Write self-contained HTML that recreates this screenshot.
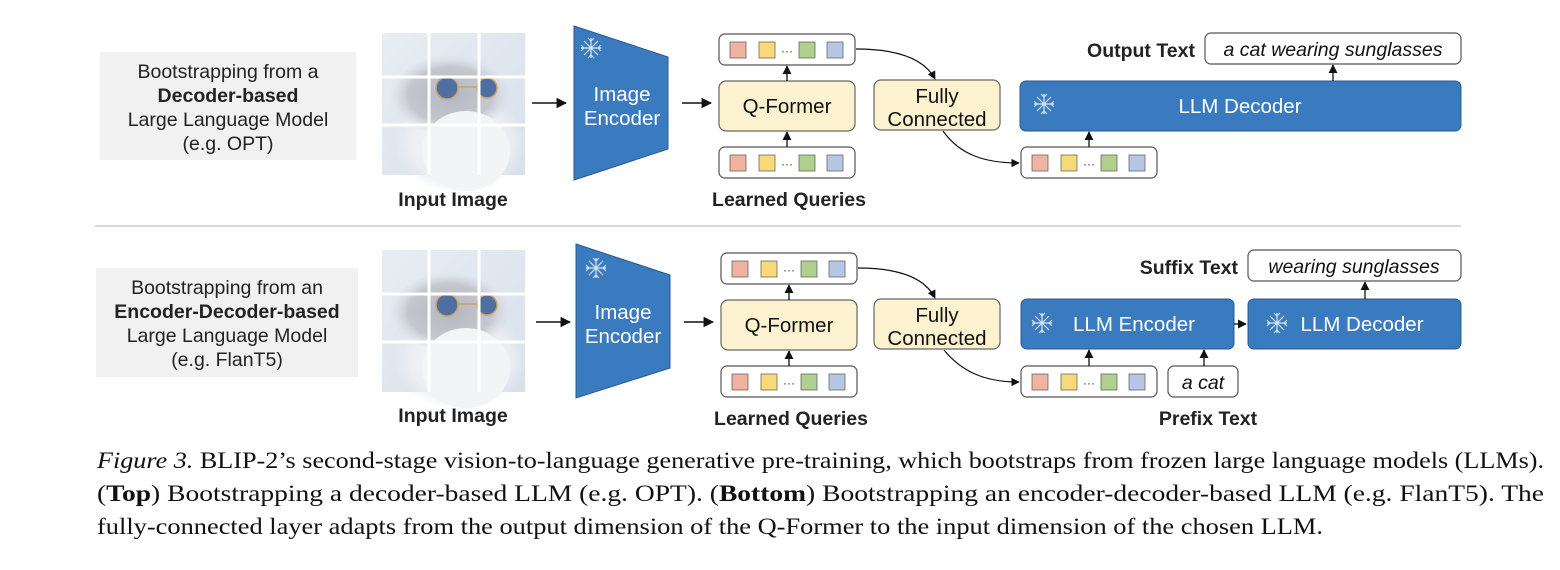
<!DOCTYPE html>
<html><head><meta charset="utf-8"><style>
html,body{margin:0;padding:0;background:#fff;}
svg{display:block;}
.s{font-family:"Liberation Sans",Arial,sans-serif;}
.b{font-weight:bold;}
.cap{font-family:"Liberation Serif","Times New Roman",serif;font-size:23px;fill:#111;}
</style></head><body>
<svg width="1560" height="570" viewBox="0 0 1560 570" xmlns="http://www.w3.org/2000/svg">
<defs>
<marker id="ar" viewBox="0 0 10 10" refX="9" refY="5" markerWidth="7" markerHeight="7" orient="auto"><path d="M0,0 L10,5 L0,10 z" fill="#111"/></marker>
<linearGradient id="bg" x1="0" y1="0" x2="1" y2="1"><stop offset="0" stop-color="#e8edf3"/><stop offset="1" stop-color="#d8e0ea"/></linearGradient>
<radialGradient id="fur" cx="0.5" cy="0.5" r="0.5"><stop offset="0" stop-color="#f6f6f8"/><stop offset="0.75" stop-color="#eceef2"/><stop offset="1" stop-color="#eceef2" stop-opacity="0"/></radialGradient>
<radialGradient id="head" cx="0.5" cy="0.5" r="0.5"><stop offset="0" stop-color="#b4b7bf"/><stop offset="0.7" stop-color="#c4c7ce"/><stop offset="1" stop-color="#d6dae1" stop-opacity="0"/></radialGradient>
<g id="cat">
<rect x="0" y="0" width="143" height="142" fill="url(#bg)"/>
<ellipse cx="78" cy="110" rx="66" ry="50" fill="url(#fur)"/>
<ellipse cx="68" cy="62" rx="60" ry="40" fill="url(#head)"/>
<ellipse cx="84" cy="118" rx="44" ry="40" fill="#f3f4f6"/>
<circle cx="65" cy="55" r="11" fill="#4e6fa0" stroke="#c9a36a" stroke-width="1.5"/>
<circle cx="105" cy="55" r="10" fill="#4e6fa0" stroke="#c9a36a" stroke-width="1.5"/>
<line x1="76" y1="54" x2="95" y2="54" stroke="#c9a36a" stroke-width="1.5"/>
<line x1="47" y1="0" x2="47" y2="142" stroke="#fff" stroke-width="3"/>
<line x1="97" y1="0" x2="97" y2="142" stroke="#fff" stroke-width="3"/>
<line x1="0" y1="44" x2="143" y2="44" stroke="#fff" stroke-width="3"/>
<line x1="0" y1="92" x2="143" y2="92" stroke="#fff" stroke-width="3"/>
</g>
<g id="q">
<rect x="0" y="0" width="136" height="31" rx="6" fill="#fff" stroke="#555" stroke-width="1.2"/>
<rect x="11" y="8" width="16" height="16" fill="#f0b3a0" stroke="#666" stroke-width="0.8"/>
<rect x="40" y="8" width="16" height="16" fill="#f7da78" stroke="#666" stroke-width="0.8"/>
<text x="62" y="21" font-size="12" class="s" fill="#333">···</text>
<rect x="80" y="8" width="16" height="16" fill="#b0d08e" stroke="#666" stroke-width="0.8"/>
<rect x="108" y="8" width="16" height="16" fill="#b6c7e6" stroke="#666" stroke-width="0.8"/>
</g>
<g id="sf" stroke="#d8e6f5" stroke-width="1.2" fill="none">
<line x1="-10" y1="0" x2="10" y2="0"/><line x1="0" y1="-10" x2="0" y2="10"/>
<line x1="-7" y1="-7" x2="7" y2="7"/><line x1="-7" y1="7" x2="7" y2="-7"/>
<path d="M-3,-10 L0,-7 L3,-10 M-3,10 L0,7 L3,10 M-10,-3 L-7,0 L-10,3 M10,-3 L7,0 L10,3"/>
</g>
</defs>

<!-- ========== TOP ========== -->
<rect x="100" y="52" width="256" height="108" fill="#f1f1f1"/>
<g class="s" font-size="19.5" fill="#222" text-anchor="middle">
<text x="228" y="78">Bootstrapping from a</text>
<text x="228" y="102" class="b">Decoder-based</text>
<text x="228" y="126">Large Language Model</text>
<text x="228" y="150">(e.g. OPT)</text>
</g>
<use href="#cat" x="382" y="33"/>
<text x="453" y="206" class="s b" font-size="19.5" text-anchor="middle" fill="#222">Input Image</text>
<line x1="532" y1="103" x2="566" y2="103" stroke="#111" stroke-width="1.5" marker-end="url(#ar)"/>
<polygon points="574,26 668,57 668,149 574,180" fill="#3a7bbf" stroke="#2a5a90" stroke-width="1"/>
<use href="#sf" x="591" y="48"/>
<text x="622" y="101" class="s" font-size="20.5" fill="#fff" text-anchor="middle">Image</text>
<text x="622" y="125" class="s" font-size="20.5" fill="#fff" text-anchor="middle">Encoder</text>
<line x1="682" y1="103" x2="711" y2="103" stroke="#111" stroke-width="1.5" marker-end="url(#ar)"/>
<use href="#q" x="719" y="34"/>
<rect x="719" y="81" width="136" height="50" rx="7" fill="#fcf2cf" stroke="#666" stroke-width="1.2"/>
<text x="787" y="113" class="s" font-size="20.5" fill="#111" text-anchor="middle">Q-Former</text>
<use href="#q" x="719" y="147"/>
<line x1="787" y1="81" x2="787" y2="66" stroke="#111" stroke-width="1.3" marker-end="url(#ar)"/>
<line x1="787" y1="147" x2="787" y2="132" stroke="#111" stroke-width="1.3" marker-end="url(#ar)"/>
<text x="789" y="206" class="s b" font-size="19.5" text-anchor="middle" fill="#222">Learned Queries</text>
<rect x="874" y="80" width="126" height="50" rx="7" fill="#fcf2cf" stroke="#666" stroke-width="1.2"/>
<text x="937" y="103" class="s" font-size="20.5" fill="#111" text-anchor="middle">Fully</text>
<text x="937" y="126" class="s" font-size="20.5" fill="#111" text-anchor="middle">Connected</text>
<path d="M856,49 C900,49 925,60 935,79" fill="none" stroke="#111" stroke-width="1.2" marker-end="url(#ar)"/>
<path d="M943,131 C960,155 985,163 1019,163" fill="none" stroke="#111" stroke-width="1.2" marker-end="url(#ar)"/>
<use href="#q" x="1021" y="147"/>
<rect x="1020" y="81" width="441" height="50" rx="6" fill="#3a7bbf" stroke="#2a5a90" stroke-width="1"/>
<use href="#sf" x="1044" y="104"/>
<text x="1240" y="113" class="s" font-size="20.5" fill="#fff" text-anchor="middle">LLM Decoder</text>
<line x1="1089" y1="147" x2="1089" y2="132" stroke="#111" stroke-width="1.3" marker-end="url(#ar)"/>
<line x1="1333" y1="81" x2="1333" y2="65" stroke="#111" stroke-width="1.3" marker-end="url(#ar)"/>
<text x="1195" y="57" class="s b" font-size="19.5" text-anchor="end" fill="#222">Output Text</text>
<rect x="1205" y="33" width="256" height="31" rx="6" fill="#fff" stroke="#555" stroke-width="1.2"/>
<text x="1333" y="56" class="s" font-size="19.5" font-style="italic" text-anchor="middle" fill="#111">a cat wearing sunglasses</text>

<line x1="95" y1="226" x2="1461" y2="226" stroke="#ccc" stroke-width="1.5"/>

<!-- ========== BOTTOM ========== -->
<rect x="96" y="268" width="262" height="109" fill="#f1f1f1"/>
<g class="s" font-size="19.5" fill="#222" text-anchor="middle">
<text x="227" y="294">Bootstrapping from an</text>
<text x="227" y="318" class="b">Encoder-Decoder-based</text>
<text x="227" y="342">Large Language Model</text>
<text x="227" y="366">(e.g. FlanT5)</text>
</g>
<use href="#cat" x="382" y="250"/>
<text x="453" y="422" class="s b" font-size="19.5" text-anchor="middle" fill="#222">Input Image</text>
<line x1="536" y1="322" x2="570" y2="322" stroke="#111" stroke-width="1.5" marker-end="url(#ar)"/>
<polygon points="576,244 670,275 670,368 576,398" fill="#3a7bbf" stroke="#2a5a90" stroke-width="1"/>
<use href="#sf" x="596" y="268"/>
<text x="623" y="319" class="s" font-size="20.5" fill="#fff" text-anchor="middle">Image</text>
<text x="623" y="343" class="s" font-size="20.5" fill="#fff" text-anchor="middle">Encoder</text>
<line x1="684" y1="322" x2="713" y2="322" stroke="#111" stroke-width="1.5" marker-end="url(#ar)"/>
<use href="#q" x="721" y="253"/>
<rect x="721" y="300" width="136" height="50" rx="7" fill="#fcf2cf" stroke="#666" stroke-width="1.2"/>
<text x="789" y="332" class="s" font-size="20.5" fill="#111" text-anchor="middle">Q-Former</text>
<use href="#q" x="721" y="366"/>
<line x1="789" y1="300" x2="789" y2="285" stroke="#111" stroke-width="1.3" marker-end="url(#ar)"/>
<line x1="789" y1="366" x2="789" y2="351" stroke="#111" stroke-width="1.3" marker-end="url(#ar)"/>
<text x="791" y="425" class="s b" font-size="19.5" text-anchor="middle" fill="#222">Learned Queries</text>
<rect x="874" y="299" width="126" height="50" rx="7" fill="#fcf2cf" stroke="#666" stroke-width="1.2"/>
<text x="937" y="322" class="s" font-size="20.5" fill="#111" text-anchor="middle">Fully</text>
<text x="937" y="345" class="s" font-size="20.5" fill="#111" text-anchor="middle">Connected</text>
<path d="M858,268 C900,268 925,278 935,298" fill="none" stroke="#111" stroke-width="1.2" marker-end="url(#ar)"/>
<path d="M944,350 C962,372 985,382 1019,382" fill="none" stroke="#111" stroke-width="1.2" marker-end="url(#ar)"/>
<use href="#q" x="1021" y="366"/>
<rect x="1168" y="366" width="70" height="31" rx="6" fill="#fff" stroke="#555" stroke-width="1.2"/>
<text x="1203" y="389" class="s" font-size="19.5" font-style="italic" text-anchor="middle" fill="#111">a cat</text>
<rect x="1021" y="299" width="213" height="50" rx="6" fill="#3a7bbf" stroke="#2a5a90" stroke-width="1"/>
<use href="#sf" x="1042" y="323"/>
<text x="1134" y="331" class="s" font-size="20.5" fill="#fff" text-anchor="middle">LLM Encoder</text>
<rect x="1248" y="299" width="213" height="50" rx="6" fill="#3a7bbf" stroke="#2a5a90" stroke-width="1"/>
<use href="#sf" x="1277" y="323"/>
<text x="1362" y="331" class="s" font-size="20.5" fill="#fff" text-anchor="middle">LLM Decoder</text>
<line x1="1234" y1="324" x2="1246" y2="324" stroke="#111" stroke-width="1.3" marker-end="url(#ar)"/>
<line x1="1089" y1="366" x2="1089" y2="350" stroke="#111" stroke-width="1.3" marker-end="url(#ar)"/>
<line x1="1204" y1="366" x2="1204" y2="350" stroke="#111" stroke-width="1.3" marker-end="url(#ar)"/>
<line x1="1365" y1="299" x2="1365" y2="282" stroke="#111" stroke-width="1.3" marker-end="url(#ar)"/>
<text x="1238" y="274" class="s b" font-size="19.5" text-anchor="end" fill="#222">Suffix Text</text>
<rect x="1248" y="250" width="213" height="31" rx="6" fill="#fff" stroke="#555" stroke-width="1.2"/>
<text x="1354" y="273" class="s" font-size="19.5" font-style="italic" text-anchor="middle" fill="#111">wearing sunglasses</text>
<text x="1208" y="425" class="s b" font-size="19.5" text-anchor="middle" fill="#222">Prefix Text</text>

<!-- caption -->
<text class="cap" x="97" y="468" textLength="1447" lengthAdjust="spacingAndGlyphs"><tspan font-style="italic">Figure 3.</tspan> BLIP-2’s second-stage vision-to-language generative pre-training, which bootstraps from frozen large language models (LLMs).</text>
<text class="cap" x="97" y="501" textLength="1447" lengthAdjust="spacingAndGlyphs">(<tspan font-weight="bold">Top</tspan>) Bootstrapping a decoder-based LLM (e.g. OPT). (<tspan font-weight="bold">Bottom</tspan>) Bootstrapping an encoder-decoder-based LLM (e.g. FlanT5). The</text>
<text class="cap" x="97" y="534" textLength="1226" lengthAdjust="spacingAndGlyphs">fully-connected layer adapts from the output dimension of the Q-Former to the input dimension of the chosen LLM.</text>
</svg>
</body></html>
